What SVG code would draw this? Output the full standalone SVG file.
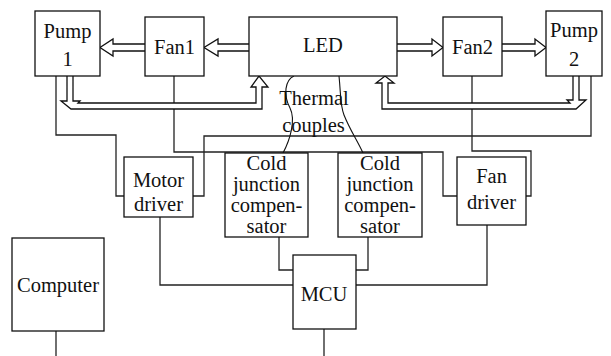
<svg xmlns="http://www.w3.org/2000/svg" width="611" height="356" viewBox="0 0 611 356">
<style>
.box{fill:#fff;stroke:#111;stroke-width:1.3}
.t{font-size:20.5px;fill:#111;text-anchor:middle}
.ln{fill:none;stroke:#222;stroke-width:1.3}
.ha{fill:#fff;stroke:#111;stroke-width:1.3;stroke-linejoin:miter}
.tc{fill:none;stroke:#111;stroke-width:1.1}
</style>
<rect width="611" height="356" fill="#fff"/>
<g id="connectors">
<path class="ln" d="M56,76 V135 H116 V196 H124"/>
<path class="ln" d="M174,76 V152 H443 V196 H457"/>
<path class="ln" d="M193,196 H204 V136 H591 V76"/>
<path class="ln" d="M472,76 V151 H531 V196 H525"/>
<path class="ln" d="M160,217 V285 H293"/>
<path class="ln" d="M487,225 V285 H356"/>
<path class="ln" d="M279,237 V270 H293"/>
<path class="ln" d="M368,237 V270 H356"/>
<path class="ln" d="M324,329 V356"/>
<path class="ln" d="M56,331 V356"/>
<path class="ha" d="M249,44 H218 V39 L204,47.5 L218,56 V51 H249"/>
<path class="ha" d="M145,44 H113 V39 L100,47.5 L113,56 V51 H145"/>
<path class="ha" d="M397,44 H432 V39 L443,47.5 L432,56 V51 H397"/>
<path class="ha" d="M502,44 H535 V39 L546,47.5 L535,56 V51 H502"/>
<path class="ha" d="M67,76 V101 H61 L71,109 H262 V87 H268 L259,76 L251,87 H256 V103 H78 L80,101 H73 V76"/>
<path class="ha" d="M579,76 V100 H586 L576,109 H382 V83 H376 L385,76 L394,83 H388 V103 H570 L567,100 H573 V76"/>
<path class="tc" d="M294,76 C285,80 283,95 290,108 C296,120 290,140 283,153"/>
<path class="tc" d="M339,76 C341,95 340,105 344,115 C350,130 357,140 363,153"/>
</g>
<g font-family="'Liberation Serif', Tinos, 'Times New Roman', 'DejaVu Serif', serif">
<g id="pump1"><rect class="box" x="35" y="11" width="65" height="65"/><text class="t" x="67.5" y="38">Pump</text><text class="t" x="67.5" y="66">1</text></g>
<g id="fan1"><rect class="box" x="145" y="17" width="59" height="59"/><text class="t" x="174.5" y="54">Fan1</text></g>
<g id="led"><rect class="box" x="249" y="17" width="148" height="59"/><text class="t" x="323" y="52">LED</text></g>
<g id="fan2"><rect class="box" x="443" y="17" width="59" height="59"/><text class="t" x="472.5" y="54">Fan2</text></g>
<g id="pump2"><rect class="box" x="546" y="11" width="56" height="65"/><text class="t" x="574" y="37">Pump</text><text class="t" x="574" y="66">2</text></g>
<g id="thermal"><text class="t" x="314" y="105">Thermal</text><text class="t" x="313.5" y="132">couples</text></g>
<g id="motor"><rect class="box" x="124" y="157" width="69" height="60"/><text class="t" x="158.5" y="187">Motor</text><text class="t" x="158.5" y="211">driver</text></g>
<g id="cjc1"><rect class="box" x="225" y="153" width="83" height="84"/><text class="t" x="266.5" y="170">Cold</text><text class="t" x="266.5" y="191">junction</text><text class="t" x="266.5" y="212">compen-</text><text class="t" x="266.5" y="233">sator</text></g>
<g id="cjc2"><rect class="box" x="338" y="153" width="84" height="84"/><text class="t" x="380" y="170">Cold</text><text class="t" x="380" y="191">junction</text><text class="t" x="380" y="212">compen-</text><text class="t" x="380" y="233">sator</text></g>
<g id="fandriver"><rect class="box" x="457" y="157" width="69" height="68"/><text class="t" x="491.5" y="183">Fan</text><text class="t" x="491.5" y="209">driver</text></g>
<g id="computer"><rect class="box" x="12" y="238" width="92" height="93"/><text class="t" x="58" y="292">Computer</text></g>
<g id="mcu"><rect class="box" x="293" y="255" width="63" height="74"/><text class="t" x="324" y="301">MCU</text></g>
</g>
</svg>
